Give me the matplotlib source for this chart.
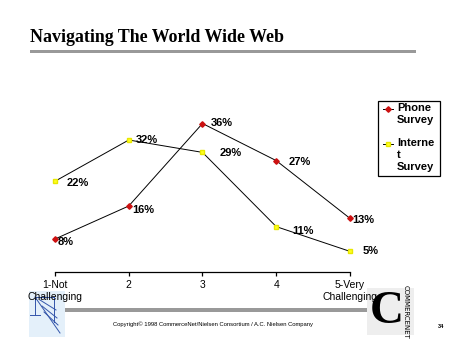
import matplotlib
matplotlib.use("Agg")
import matplotlib.pyplot as plt
from matplotlib.patches import Rectangle
from matplotlib.lines import Line2D

# Survey results: share of respondents per difficulty rating
ratings = [1, 2, 3, 4, 5]
tick_labels = ["1-Not\nChallenging", "2", "3", "4", "5-Very\nChallenging"]
phone = [8, 16, 36, 27, 13]
internet = [22, 32, 29, 11, 5]
series_names = ["Phone\nSurvey", "Interne\nt\nSurvey"]

# label offsets (pixels) for each value label
phone_offsets = [(3, -3), (4, -4), (8, 1), (12, -1), (2, -2)]
internet_offsets = [(12, -2), (7, 0), (17, -1), (16, -4), (13, 0)]

W, H = 452, 339
fig = plt.figure(figsize=(W / 100, H / 100), dpi=100)
fig.patch.set_facecolor("white")


def fx(px):
    return px / W


def fy(py):
    return 1 - py / H


def fig_line(p0, p1, **kw):
    fig.add_artist(Line2D([fx(p0[0]), fx(p1[0])], [fy(p0[1]), fy(p1[1])],
                          transform=fig.transFigure, **kw))


# title and rule
fig.text(fx(30), fy(42), "Navigating The World Wide Web", family="Liberation Serif",
         fontweight="bold", fontsize=12.9, ha="left", va="baseline")
fig.add_artist(Rectangle((fx(30), fy(53)), fx(386), 3 / H, color="#999999", lw=0,
                         transform=fig.transFigure))

# plot area
ax = fig.add_axes([fx(55), fy(272), fx(295), 165 / H])
ax.set_zorder(2)
ax.set_xlim(1, 5)
ax.set_ylim(0, 40)
ax.patch.set_alpha(0)
for s in ("left", "right", "top"):
    ax.spines[s].set_visible(False)
ax.spines["bottom"].set_linewidth(0.9)
ax.set_yticks([])
ax.set_xticks(ratings)
ax.set_xticklabels(tick_labels, family="Liberation Sans", fontsize=7.5, linespacing=1.25)
ax.tick_params(axis="x", direction="out", length=3, width=0.9, pad=3)

phone_style = dict(color="black", lw=0.7, marker="D", ms=2.8, mfc="#cc1111", mec="#cc1111")
internet_style = dict(color="black", lw=0.7, marker="s", ms=3.2, mfc="#ffff22", mec="#e8e800")

ax.plot(ratings, phone, clip_on=False, **phone_style)
ax.plot(ratings, internet, clip_on=False, **internet_style)

for x, v, off in zip(ratings, phone, phone_offsets):
    ax.annotate(f"{v}%", (x, v), xytext=off, textcoords="offset pixels",
                family="Liberation Sans", fontweight="bold", fontsize=8,
                ha="left", va="center")
for x, v, off in zip(ratings, internet, internet_offsets):
    ax.annotate(f"{v}%", (x, v), xytext=off, textcoords="offset pixels",
                family="Liberation Sans", fontweight="bold", fontsize=8,
                ha="left", va="center")

# legend box with the handle beside the first line of each label
fig.add_artist(Rectangle((fx(378), fy(176)), fx(62), 75 / H, facecolor="white",
                         edgecolor="black", lw=0.9, transform=fig.transFigure, zorder=3))
for name, top, style in zip(series_names, [109, 144], [phone_style, internet_style]):
    fig.add_artist(Line2D([fx(383), fx(388), fx(393)], [fy(top)] * 3, markevery=[1],
                          transform=fig.transFigure, zorder=4, **style))
    fig.text(fx(397), fy(top - 6), name, family="Liberation Sans", fontweight="bold",
             fontsize=8, ha="left", va="top", linespacing=1.22, zorder=4)

# footer rule and credit line
fig.add_artist(Rectangle((fx(65), fy(312)), fx(302), 4 / H, color="#999999", lw=0,
                         transform=fig.transFigure, zorder=-1))
fig.text(fx(213), fy(324), "Copyright\u00a9 1998 CommerceNet/Nielsen Consortium / A.C. Nielsen Company",
         family="Liberation Sans", fontsize=4.2, ha="center", va="center")
fig.text(fx(441), fy(327), "34", family="Liberation Sans", fontsize=4,
         fontweight="bold", ha="center", va="center")

# left emblem
fig.add_artist(Rectangle((fx(29), fy(337)), fx(36), 46 / H, color="#e4f0fa", lw=0,
                         transform=fig.transFigure, zorder=-1))
emblem = [((35, 297), (35, 315)), ((35, 297), (60, 333)), ((54, 297), (54, 322)),
          ((40, 300), (56, 310)), ((42, 306), (57, 318)), ((44, 312), (58, 325)),
          ((30, 315), (40, 315)), ((35, 297), (54, 297))]
for p0, p1 in emblem:
    fig_line(p0, p1, color="#3355aa", lw=0.7, zorder=-1)

# right emblem
fig.add_artist(Rectangle((fx(367), fy(335)), fx(47), 47 / H, color="#eeeeee", lw=0,
                         transform=fig.transFigure, zorder=-1))
fig.text(fx(387), fy(312), "C", family="Liberation Serif", fontweight="bold",
         fontsize=34, ha="center", va="center", color="black", zorder=-1)
fig.text(fx(406), fy(312), "COMMERCENET", family="Liberation Sans Narrow",
         fontsize=5, rotation=-90, ha="center", va="center", color="black", zorder=-1)

fig.savefig("out.png", dpi=100)
